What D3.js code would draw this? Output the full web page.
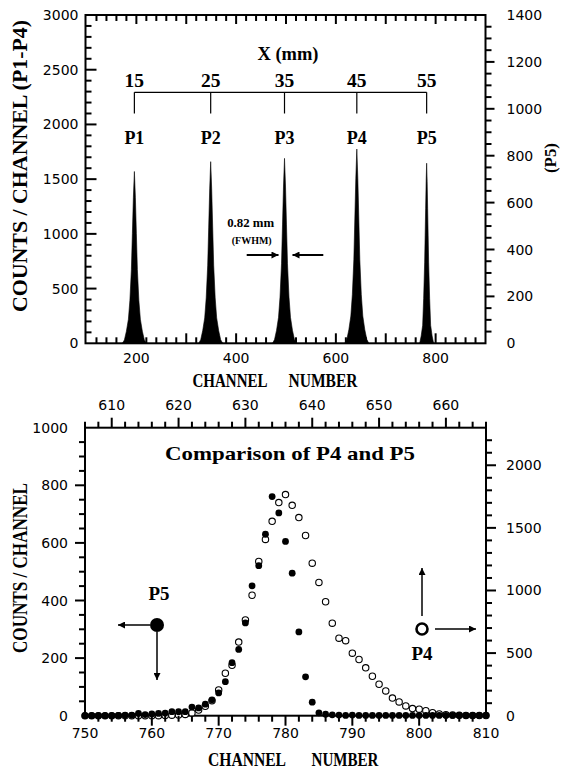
<!DOCTYPE html>
<html><head><meta charset="utf-8">
<script src="https://cdn.jsdelivr.net/npm/d3@7"></script>
<style>body{margin:0;background:#fff}</style>
</head><body>
<svg id="c" width="561" height="772"></svg>
<script>
// ---------------- DATA ----------------
const peakNames = ["P1","P2","P3","P4","P5"];
const peakPositionsMm = [15,25,35,45,55];
const peakCenterChannels = [196,349,497,642,782];
// peak profiles (channel, counts); P5 is on the right axis
const p1Channels = [172,176,180,184,187,190,192,194,196,198,200,202,205,208,212,216,220];
const p1Counts   = [0,31,110,220,392,675,1005,1335,1570,1335,1005,675,392,220,110,31,0];
const p2Channels = [325,329,333,337,340,343,345,347,349,351,353,355,358,361,365,369,373];
const p2Counts   = [0,33,116,232,415,714,1062,1411,1660,1411,1062,714,415,232,116,33,0];
const p3Channels = [473,477,481,485,488,491,493,495,497,499,501,503,506,509,513,517,521];
const p3Counts   = [0,34,118,237,423,727,1082,1437,1690,1437,1082,727,423,237,118,34,0];
const p4Channels = [618,622,626,630,633,636,638,640,642,644,646,648,651,654,658,662,666];
const p4Counts   = [0,36,124,249,444,763,1136,1509,1775,1509,1136,763,444,249,124,36,0];
const p5Channels = [768,771,774,776,778,779,780,781,782,783,784,785,786,788,790,793,796];
const p5Counts   = [0,31,77,192,346,461,576,691,768,691,576,461,346,192,77,31,0];

// Bottom panel: comparison of P4 and P5 (bottom axis = P5 channel, top axis = P4 channel)
const cmpChannels = [750,751,752,753,754,755,756,757,758,759,760,761,762,763,764,765,766,767,768,769,
  770,771,772,773,774,775,776,777,778,779,780,781,782,783,784,785,786,787,788,789,
  790,791,792,793,794,795,796,797,798,799,800,801,802,803,804,805,806,807,808,809,810];
const p5CmpCounts = [0,0,0,0,0,1,2,2,8,4, 6,8,9,14,14,14,30,27,40,55,
  79,118,184,230,322,451,521,630,761,704, 605,495,291,135,47,10,5,3,2,1,
  2,1,1,1,1,1,1,1,1,1, 1,1,1,1,1,1,1,1,1,1, 1];
const p4CmpCounts = [0,0,0,0,0,0,0,0,0,0, 0,0,2,4,6,10,22,45,75,120,
  206,339,402,588,765,962,1232,1408,1552,1702, 1766,1680,1582,1439,1218,1064,910,739,619,599,
  499,449,382,315,251,198,141,110,78,57, 52,40,24,14,8,5,3,2,1,1, 1];

// ---------------- DRAW ----------------
const svg = d3.select("#c");
svg.append("rect").attr("width",561).attr("height",772).attr("fill","#fff");
svg.append("defs").append("marker").attr("id","ah").attr("viewBox","0 0 10 10").attr("refX",10).attr("refY",5)
  .attr("markerWidth",10).attr("markerHeight",7).attr("markerUnits","userSpaceOnUse").attr("orient","auto")
  .append("path").attr("d","M0,0L10,5L0,10z").attr("fill","#000");

const SERIF = "'Liberation Serif', 'DejaVu Serif', serif";
const SANS = "'DejaVu Sans', 'Liberation Sans', sans-serif";

function txt(x,y,s,size,len,opts={}){
  const t = svg.append("text").attr("x",x).attr("y",y).text(s)
    .attr("font-family",opts.family||SERIF).attr("font-weight",opts.weight||"bold")
    .attr("font-size",size).attr("text-anchor",opts.anchor||"middle").attr("dominant-baseline","central").attr("fill","#000");
  if(len) t.attr("textLength",len).attr("lengthAdjust","spacingAndGlyphs");
  if(opts.rotate) t.attr("transform",`rotate(${opts.rotate},${x},${y})`);
  return t;
}
function range(a,b,s){const r=[];for(let v=a;v<=b+1e-9;v+=s)r.push(v);return r;}
function frame(P){
  svg.append("rect").attr("x",P.l).attr("y",P.t).attr("width",P.r-P.l).attr("height",P.b-P.t)
    .attr("fill","none").attr("stroke","#000").attr("stroke-width",2);
}
const tickSpecs = [];
function queueTicks(side, scale, pos, vals, len, dir){ tickSpecs.push({side, scale, pos, vals, len, dir}); }
function drawTicks(){
  const g = svg.append("g").attr("class","ticks");
  tickSpecs.forEach(s=>{
    s.vals.forEach(v=>{
      const p = s.scale(v);
      let a;
      if(s.side==="bottom") a=[p,s.pos,p,s.pos-s.dir*s.len];
      if(s.side==="top") a=[p,s.pos,p,s.pos+s.dir*s.len];
      if(s.side==="left") a=[s.pos,p,s.pos+s.dir*s.len,p];
      if(s.side==="right") a=[s.pos,p,s.pos-s.dir*s.len,p];
      g.append("line").attr("x1",a[0]).attr("y1",a[1]).attr("x2",a[2]).attr("y2",a[3])
        .attr("stroke","#000").attr("stroke-width",2);
    });
  });
}
function labels(side, scale, pos, vals){
  vals.forEach(v=>{
    const p = scale(v);
    if(side==="bottom"||side==="top") txt(p,pos,String(v),14,null,{family:SANS,weight:"normal"});
    if(side==="left") txt(pos,p,String(v),14,null,{family:SANS,weight:"normal",anchor:"end"});
    if(side==="right") txt(pos,p,String(v),14,null,{family:SANS,weight:"normal",anchor:"start"});
  });
}

// ===== Top panel =====
const T = {l:85.5, r:485.5, t:15, b:343.3};
const xT = d3.scaleLinear().domain([98,900]).range([T.l,T.r]);
const yTL = d3.scaleLinear().domain([0,3000]).range([T.b,T.t]);
const yTR = d3.scaleLinear().domain([0,1400]).range([T.b,T.t]);

const peaks = [
  {c:p1Channels,v:p1Counts,y:yTL},{c:p2Channels,v:p2Counts,y:yTL},{c:p3Channels,v:p3Counts,y:yTL},
  {c:p4Channels,v:p4Counts,y:yTL},{c:p5Channels,v:p5Counts,y:yTR}];
peaks.forEach(p=>{
  const pts = p.c.map((c,i)=>({c, v:p.v[i]}));
  svg.append("path").datum(pts).attr("fill","#000").attr("stroke","#000").attr("stroke-width",0.6)
    .attr("d", d3.area().x(d=>xT(d.c)).y0(p.y(0)).y1(d=>p.y(d.v)));
});

frame(T);
queueTicks("bottom", xT, T.b, range(120,880,20).filter(v=>v%100!==0), 6, 1);
queueTicks("bottom", xT, T.b, range(200,800,100), 10, 1);
queueTicks("top", xT, T.t, range(120,880,20).filter(v=>v%100!==0), 6, 1);
queueTicks("top", xT, T.t, range(200,800,100), 9, 1);
queueTicks("left", yTL, T.l, range(100,2900,100).filter(v=>v%500!==0), 6, 1);
queueTicks("left", yTL, T.l, range(500,2500,500), 11, 1);
queueTicks("right", yTR, T.r, range(50,1350,50).filter(v=>v%200!==0), 6, -1);
queueTicks("right", yTR, T.r, range(200,1200,200), 9, -1);
labels("bottom", xT, 358, [200,400,600,800]);
labels("left", yTL, 78.5, range(0,3000,500));
labels("right", yTR, 506.5, range(0,1400,200));

// bracket with X (mm)
const bx = peakCenterChannels.map(c=>xT(c));
svg.append("line").attr("x1",bx[0]).attr("x2",bx[4]).attr("y1",92.3).attr("y2",92.3).attr("stroke","#000").attr("stroke-width",1.2);
bx.forEach((x,i)=>{
  svg.append("line").attr("x1",x).attr("x2",x).attr("y1",92.3).attr("y2",113.5).attr("stroke","#000").attr("stroke-width",1.2);
  txt(x,81,String(peakPositionsMm[i]),18,19.5);
  txt(x,137,peakNames[i],19,20);
});
txt(288,53.5,"X (mm)",18,61);

// FWHM annotation
txt(250.7,222.5,"0.82 mm",13,47);
txt(251.7,240,"(FWHM)",11,40);
svg.append("line").attr("x1",246.7).attr("x2",278.5).attr("y1",255).attr("y2",255).attr("stroke","#000").attr("stroke-width",2).attr("marker-end","url(#ah)");
svg.append("line").attr("x1",323.3).attr("x2",292.5).attr("y1",255).attr("y2",255).attr("stroke","#000").attr("stroke-width",2).attr("marker-end","url(#ah)");

// titles
txt(20,166,"COUNTS / CHANNEL (P1-P4)",20,292,{rotate:-90});
txt(550,158,"(P5)",17,30,{rotate:-90});
txt(230,380,"CHANNEL",19,75);
txt(323,380,"NUMBER",19,69);

// ===== Bottom panel =====
const B = {l:85, r:486, t:427.7, b:715.7};
const xB = d3.scaleLinear().domain([750,810]).range([B.l,B.r]);
const xBtop = d3.scaleLinear().domain([606,666]).range([B.l,B.r]);
const yBL = d3.scaleLinear().domain([0,1000]).range([B.b,B.t]);
const yBR = d3.scaleLinear().domain([0,2300]).range([B.b,B.t]);

frame(B);
queueTicks("bottom", xB, B.b, range(752,808,2).filter(v=>v%10!==0), 6, -1);
queueTicks("bottom", xB, B.b, range(760,800,10), 10, -1);
queueTicks("top", xBtop, B.t, range(606,666,2).filter(v=>v%10!==0), 6, -1);
queueTicks("top", xBtop, B.t, range(610,660,10), 10, -1);
queueTicks("left", yBL, B.l, range(50,950,50).filter(v=>v%200!==0), 6, -1);
queueTicks("left", yBL, B.l, range(200,800,200), 10, -1);
queueTicks("right", yBR, B.r, range(100,2200,100).filter(v=>v%500!==0), 6, -1);
queueTicks("right", yBR, B.r, range(500,2000,500), 10, -1);
labels("bottom", xB, 732.5, range(750,810,10));
labels("top", xBtop, 405, range(610,660,10));
labels("left", yBL, 68, range(0,1000,200));
labels("right", yBR, 506, range(0,2000,500));

const cmp = cmpChannels.map((c,i)=>({c, p4:p4CmpCounts[i], p5:p5CmpCounts[i]}));
svg.append("g").selectAll("circle").data(cmp).join("circle")
  .attr("cx",d=>xB(d.c)).attr("cy",d=>yBR(d.p4)).attr("r",3.2)
  .attr("fill","#fff").attr("stroke","#000").attr("stroke-width",1.1);
svg.append("g").selectAll("circle").data(cmp).join("circle")
  .attr("cx",d=>xB(d.c)).attr("cy",d=>yBL(d.p5)).attr("r",3.4).attr("fill","#000");

txt(290,453.5,"Comparison of P4 and P5",19,250);
txt(20,568,"COUNTS / CHANNEL",20,170,{rotate:-90});
txt(247,759,"CHANNEL",19,78);
txt(345,759,"NUMBER",19,67);

// legend P5 (left axis)
svg.append("circle").attr("cx",157).attr("cy",625).attr("r",7).attr("fill","#000");
svg.append("line").attr("x1",150).attr("x2",118).attr("y1",625).attr("y2",625).attr("stroke","#000").attr("stroke-width",1.5).attr("marker-end","url(#ah)");
svg.append("line").attr("x1",157).attr("x2",157).attr("y1",632).attr("y2",680).attr("stroke","#000").attr("stroke-width",1.5).attr("marker-end","url(#ah)");
txt(159,593,"P5",19,21);
// legend P4 (right axis)
svg.append("circle").attr("cx",422).attr("cy",629).attr("r",5.5).attr("fill","#fff").attr("stroke","#000").attr("stroke-width",2.6);
svg.append("line").attr("x1",422).attr("x2",422).attr("y1",616).attr("y2",568).attr("stroke","#000").attr("stroke-width",1.5).attr("marker-end","url(#ah)");
svg.append("line").attr("x1",435).attr("x2",476).attr("y1",629).attr("y2",629).attr("stroke","#000").attr("stroke-width",1.5).attr("marker-end","url(#ah)");
txt(422,653,"P4",19,21);

// tick marks last, on top of everything
drawTicks();
</script>
</body></html>
